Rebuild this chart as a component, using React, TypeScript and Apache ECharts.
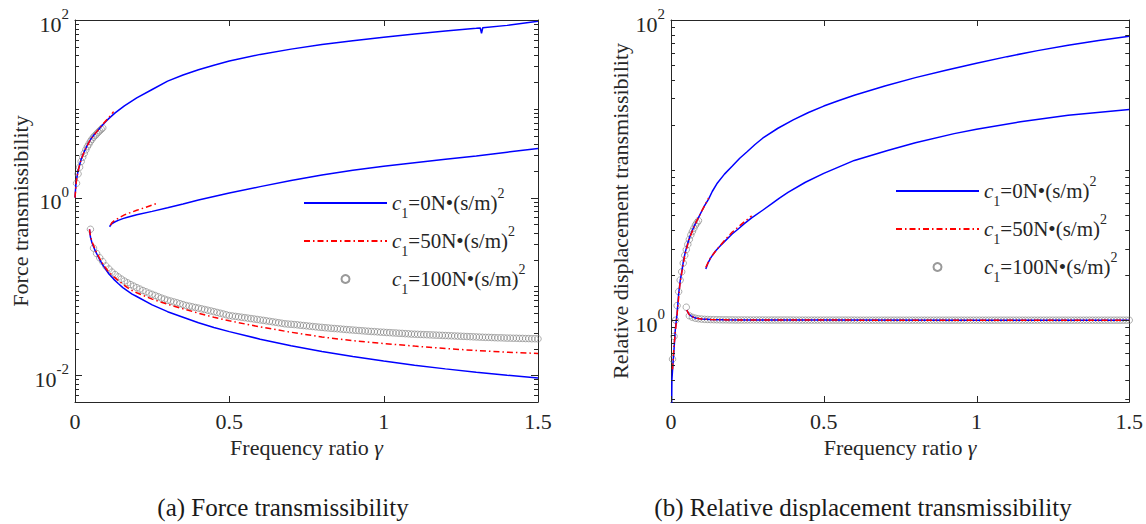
import React, { useEffect, useRef } from 'react';
import * as echarts from 'echarts';

const FONT = '"Liberation Serif", "Times New Roman", Times, serif';
const TXT = '#262626';
const BLUE = '#0000ff';
const RED = '#ff0000';
const GREY = '#808080';

const N0 = 'c1=0';
const N50 = 'c1=50';
const N100 = 'c1=100';
const LEGEND_LABEL: Record<string, string> = {
  [N0]: '=0N•(s/m)',
  [N50]: '=50N•(s/m)',
  [N100]: '=100N•(s/m)',
};

const xTickValues = [0, 0.5, 1, 1.5];

// ---------- (a) Force transmissibility ----------
const fYMin = 0.005;
const fYMax = 100;
const fMajor = [0.01, 1, 100];
const fMinor = [0.006, 0.007, 0.008, 0.009, 0.02, 0.03, 0.04, 0.05, 0.06, 0.07, 0.08, 0.09, 0.1,
  0.2, 0.3, 0.4, 0.5, 0.6, 0.7, 0.8, 0.9, 2, 3, 4, 5, 6, 7, 8, 9, 10, 20, 30, 40, 50, 60, 70, 80, 90];

const fTopGamma = [0, 0.0025, 0.005, 0.01, 0.015, 0.02, 0.03, 0.04, 0.05, 0.06, 0.07, 0.08, 0.09, 0.1, 0.11, 0.13, 0.16,
  0.2, 0.25, 0.3, 0.35, 0.4, 0.45, 0.5, 0.6, 0.7, 0.8, 0.9, 1.0, 1.1, 1.2, 1.3, 1.313, 1.317, 1.321, 1.4, 1.5];
const fTopBlue = [1, 1.35, 1.6, 2.0, 2.35, 2.7, 3.3, 3.9, 4.5, 5.0, 5.5, 6.05, 6.6, 7.2, 7.8, 9.0, 10.8,
  13.3, 16.5, 20.5, 24, 27.5, 31, 34.5, 41, 47, 53, 58.5, 64, 69.5, 75, 80.5, 81.3, 71, 81.8, 87, 97];
const fTopRedGamma = [0, 0.005, 0.01, 0.02, 0.035, 0.05, 0.07, 0.09, 0.11, 0.125];
const fTopRed = [1, 1.6, 2.0, 2.7, 3.6, 4.5, 5.5, 6.7, 8.0, 9.3];

const fMidGamma = [0.112, 0.116, 0.12, 0.13, 0.14, 0.155, 0.17, 0.2, 0.25, 0.3, 0.35, 0.4, 0.45, 0.5, 0.6, 0.7, 0.8,
  0.9, 1.0, 1.1, 1.2, 1.3, 1.4, 1.5];
const fMidBlue = [0.47, 0.495, 0.51, 0.535, 0.555, 0.58, 0.6, 0.64, 0.7, 0.77, 0.85, 0.94, 1.03, 1.13, 1.33, 1.56, 1.8,
  2.03, 2.25, 2.47, 2.7, 2.95, 3.25, 3.57];
const fMidRedGamma = [0.115, 0.12, 0.13, 0.16, 0.2, 0.23, 0.265];
const fMidRed = [0.49, 0.525, 0.56, 0.64, 0.72, 0.78, 0.86];

const fLowGamma = [0.047, 0.05, 0.055, 0.06, 0.065, 0.07, 0.08, 0.09, 0.1, 0.11, 0.125, 0.14, 0.155, 0.17, 0.185, 0.2,
  0.25, 0.3, 0.35, 0.4, 0.45, 0.5, 0.6, 0.7, 0.8, 0.9, 1.0, 1.1, 1.2, 1.3, 1.4, 1.5];
const fLowBlue = [0.44, 0.36, 0.31, 0.28, 0.255, 0.235, 0.2, 0.175, 0.155, 0.138, 0.121, 0.108, 0.097, 0.089, 0.082, 0.077,
  0.062, 0.052, 0.045, 0.039, 0.0345, 0.031, 0.0255, 0.0215, 0.0185, 0.0163, 0.0145, 0.013, 0.0118, 0.0108, 0.01, 0.0093];
const fLowRed = [0.44, 0.37, 0.32, 0.29, 0.265, 0.24, 0.207, 0.18, 0.16, 0.145, 0.129, 0.117, 0.106, 0.097, 0.09, 0.085,
  0.072, 0.063, 0.056, 0.05, 0.045, 0.041, 0.035, 0.0305, 0.027, 0.0245, 0.0228, 0.0213, 0.02, 0.019, 0.0182, 0.0176];

const circTopGamma = [0.005, 0.01, 0.015, 0.02, 0.025, 0.03, 0.035, 0.04, 0.045, 0.05, 0.055, 0.06, 0.065, 0.07,
  0.075, 0.08, 0.085, 0.09];
const fCircTop = [1.45, 1.85, 2.2, 2.55, 2.85, 3.15, 3.45, 3.75, 4.0, 4.3, 4.55, 4.8, 5.0, 5.2, 5.45, 5.65, 5.9, 6.1];

// gamma of the circle markers on the lower branches (0.05 … 1.50, step 0.01)
const circLowGamma = [
  0.05, 0.06, 0.07, 0.08, 0.09, 0.10, 0.11, 0.12, 0.13, 0.14, 0.15, 0.16, 0.17, 0.18, 0.19, 0.20,
  0.21, 0.22, 0.23, 0.24, 0.25, 0.26, 0.27, 0.28, 0.29, 0.30, 0.31, 0.32, 0.33, 0.34, 0.35, 0.36, 0.37, 0.38, 0.39, 0.40,
  0.41, 0.42, 0.43, 0.44, 0.45, 0.46, 0.47, 0.48, 0.49, 0.50, 0.51, 0.52, 0.53, 0.54, 0.55, 0.56, 0.57, 0.58, 0.59, 0.60,
  0.61, 0.62, 0.63, 0.64, 0.65, 0.66, 0.67, 0.68, 0.69, 0.70, 0.71, 0.72, 0.73, 0.74, 0.75, 0.76, 0.77, 0.78, 0.79, 0.80,
  0.81, 0.82, 0.83, 0.84, 0.85, 0.86, 0.87, 0.88, 0.89, 0.90, 0.91, 0.92, 0.93, 0.94, 0.95, 0.96, 0.97, 0.98, 0.99, 1.00,
  1.01, 1.02, 1.03, 1.04, 1.05, 1.06, 1.07, 1.08, 1.09, 1.10, 1.11, 1.12, 1.13, 1.14, 1.15, 1.16, 1.17, 1.18, 1.19, 1.20,
  1.21, 1.22, 1.23, 1.24, 1.25, 1.26, 1.27, 1.28, 1.29, 1.30, 1.31, 1.32, 1.33, 1.34, 1.35, 1.36, 1.37, 1.38, 1.39, 1.40,
  1.41, 1.42, 1.43, 1.44, 1.45, 1.46, 1.47, 1.48, 1.49, 1.50];
const fCircLow = [
  0.44, 0.27, 0.235, 0.21, 0.19, 0.17, 0.157, 0.145, 0.136, 0.128, 0.121, 0.115, 0.11, 0.105, 0.101, 0.097,
  0.0935, 0.090, 0.087, 0.084, 0.0815, 0.079, 0.0765, 0.074, 0.072, 0.070, 0.0685, 0.067, 0.0655, 0.064, 0.0625, 0.061, 0.060, 0.059, 0.058, 0.057,
  0.056, 0.055, 0.054, 0.053, 0.052, 0.051, 0.050, 0.049, 0.048, 0.047, 0.0465, 0.046, 0.0455, 0.045, 0.0445, 0.044, 0.0435, 0.043, 0.0425, 0.042,
  0.0415, 0.041, 0.0405, 0.040, 0.0395, 0.039, 0.0385, 0.038, 0.0377, 0.0375, 0.0372, 0.037, 0.0366, 0.0363, 0.036, 0.0357, 0.0354, 0.0351, 0.0348, 0.0346,
  0.0343, 0.0341, 0.0338, 0.0336, 0.0334, 0.0332, 0.0329, 0.0327, 0.0325, 0.0323, 0.0321, 0.0319, 0.0317, 0.0315, 0.0313, 0.0311, 0.031, 0.0308, 0.0306, 0.0305,
  0.0303, 0.0302, 0.030, 0.0299, 0.0297, 0.0296, 0.0294, 0.0293, 0.0291, 0.029, 0.0289, 0.0288, 0.0287, 0.0286, 0.0285, 0.0284, 0.0283, 0.0282, 0.0281, 0.028,
  0.0279, 0.0278, 0.0277, 0.0276, 0.0275, 0.0274, 0.0273, 0.0272, 0.0271, 0.027, 0.0269, 0.0268, 0.0267, 0.0267, 0.0266, 0.0265, 0.0264, 0.0264, 0.0263, 0.0262,
  0.0262, 0.0261, 0.0261, 0.026, 0.026, 0.0259, 0.0259, 0.0258, 0.0258, 0.0257];

// ---------- (b) Relative displacement transmissibility ----------
const dYMin = 0.285;
const dYMax = 100;
const dMajor = [1, 100];
const dMinor = [0.3, 0.4, 0.5, 0.6, 0.7, 0.8, 0.9, 2, 3, 4, 5, 6, 7, 8, 9, 10, 20, 30, 40, 50, 60, 70, 80, 90];

const dTopGamma = [0, 0.003, 0.006, 0.009, 0.014, 0.02, 0.025, 0.03, 0.036, 0.041, 0.047, 0.055, 0.063, 0.074, 0.085,
  0.1, 0.11, 0.123, 0.135, 0.15, 0.175, 0.2, 0.225, 0.25, 0.275, 0.3, 0.35, 0.4, 0.45, 0.5, 0.55, 0.6, 0.7, 0.8, 0.9,
  1.0, 1.1, 1.2, 1.3, 1.4, 1.5];
const dTopBlue = [0.1, 0.4, 0.5, 0.6, 0.86, 1.11, 1.5, 1.82, 2.15, 2.5, 2.85, 3.27, 3.67, 4.15, 4.6,
  5.3, 5.8, 6.4, 7.2, 8.1, 9.4, 10.6, 12.0, 13.3, 14.8, 16.3, 19.0, 21.6, 24.2, 26.7, 29.1, 31.5, 36.3, 41.3, 46.3,
  51.5, 57, 62.5, 68, 73, 78];
const dTopRedGamma = [0.005, 0.01, 0.02, 0.03, 0.045, 0.06, 0.08, 0.1, 0.123];
const dTopRed = [0.47, 0.68, 1.1, 1.8, 2.7, 3.5, 4.4, 5.3, 6.5];

const dMidGamma = [0.114, 0.12, 0.13, 0.145, 0.166, 0.2, 0.22, 0.24, 0.264, 0.3, 0.329, 0.355, 0.383, 0.44, 0.5, 0.6,
  0.709, 0.8, 0.927, 1.0, 1.144, 1.3, 1.5];
const dMidBlue = [2.19, 2.38, 2.6, 2.88, 3.2, 3.75, 4.05, 4.4, 4.8, 5.4, 5.95, 6.5, 7.1, 8.3, 9.5, 11.6,
  13.5, 15.2, 17.5, 18.7, 21, 23.2, 25.3];
const dMidRedGamma = [0.114, 0.13, 0.15, 0.175, 0.2, 0.23, 0.264];
const dMidRed = [2.25, 2.62, 2.95, 3.4, 3.85, 4.35, 4.95];

const dFlatGamma = [0.052, 0.055, 0.06, 0.065, 0.07, 0.08, 0.09, 0.1, 0.13, 0.17, 0.25, 0.5, 1.0, 1.5];
const dFlatBlue = [1.17, 1.13, 1.09, 1.07, 1.055, 1.035, 1.026, 1.02, 1.01, 1.005, 1.002, 1.001, 1.0, 1.0];
const dFlatRed = [1.17, 1.13, 1.09, 1.07, 1.055, 1.035, 1.026, 1.02, 1.01, 1.005, 1.002, 1.001, 1.0, 1.0];

const dCircTop = [0.55, 0.78, 1.0, 1.25, 1.55, 1.85, 2.1, 2.4, 2.7, 2.95, 3.2, 3.45, 3.7, 3.9, 4.1, 4.3, 4.45, 4.6];
const dCircLow = [
  1.22, 1.07, 1.045, 1.03, 1.022, 1.017, 1.013, 1.011, 1.009, 1.008, 1.007, 1.006, 1.005, 1.005, 1.004, 1.004,
  1.003, 1.003, 1.003, 1.003, 1.003, 1.003, 1.003, 1.003, 1.003, 1.003, 1.002, 1.002, 1.002, 1.002, 1.002, 1.002, 1.002, 1.002, 1.002, 1.002,
  1.001, 1.001, 1.001, 1.001, 1.001, 1.001, 1.001, 1.001, 1.001, 1.001, 1.001, 1.001, 1.001, 1.001, 1.001, 1.001, 1.001, 1.001, 1.001, 1.001,
  1, 1, 1, 1, 1, 1, 1, 1, 1, 1, 1, 1, 1, 1, 1, 1, 1, 1, 1, 1,
  1, 1, 1, 1, 1, 1, 1, 1, 1, 1, 1, 1, 1, 1, 1, 1, 1, 1, 1, 1,
  1, 1, 1, 1, 1, 1, 1, 1, 1, 1, 1, 1, 1, 1, 1, 1, 1, 1, 1, 1,
  1, 1, 1, 1, 1, 1, 1, 1, 1, 1, 1, 1, 1, 1, 1, 1, 1, 1, 1, 1,
  1, 1, 1, 1, 1, 1, 1, 1, 1, 1];

const zip = (g: number[], v: number[]) => g.map((x, i) => [x, v[i]]);

const blueLine = { color: BLUE, width: 1.5, type: 'solid' as const };
const redLine = { color: RED, width: 1.5, type: [6, 3, 1.5, 3] };

function lineSeries(name: string, data: number[][], xi: number, yi: number, style: any) {
  return {
    name, type: 'line', xAxisIndex: xi, yAxisIndex: yi, data, symbol: 'none', showSymbol: false,
    lineStyle: style, itemStyle: { color: style.color }, silent: true, clip: true, z: 3,
  };
}
function circleSeries(data: number[][], xi: number, yi: number) {
  return {
    name: N100, type: 'scatter', xAxisIndex: xi, yAxisIndex: yi, data, symbol: 'circle', symbolSize: 6.5,
    symbolKeepAspect: true,
    itemStyle: { color: 'rgba(0,0,0,0)', borderColor: GREY, borderWidth: 0.8 }, silent: true, clip: true, z: 2,
  };
}

// Box ticks (inside, on both sides), positioned through the axes' own scales.
function yTickSeries(xi: number, yi: number, major: number[], minor: number[]) {
  const data = [...major.map((v) => [0.75, v, 7]), ...minor.map((v) => [0.75, v, 4])];
  return {
    type: 'custom', xAxisIndex: xi, yAxisIndex: yi, silent: true, clip: false, z: 5, data,
    renderItem: (params: any, api: any) => {
      const cs = params.coordSys;
      const y = Math.round(api.coord([api.value(0), api.value(1)])[1]) + 0.5;
      const len = api.value(2);
      const st = { stroke: TXT, lineWidth: 1 };
      return {
        type: 'group',
        children: [
          { type: 'line', shape: { x1: cs.x, y1: y, x2: cs.x + len, y2: y }, style: st },
          { type: 'line', shape: { x1: cs.x + cs.width - len, y1: y, x2: cs.x + cs.width, y2: y }, style: st },
        ],
      };
    },
  };
}
function xTickSeries(xi: number, yi: number, yMid: number) {
  const data = xTickValues.map((g) => [g, yMid, 6]);
  return {
    type: 'custom', xAxisIndex: xi, yAxisIndex: yi, silent: true, clip: false, z: 5, data,
    renderItem: (params: any, api: any) => {
      const cs = params.coordSys;
      const x = Math.round(api.coord([api.value(0), api.value(1)])[0]) + 0.5;
      const len = api.value(2);
      const st = { stroke: TXT, lineWidth: 1 };
      return {
        type: 'group',
        children: [
          { type: 'line', shape: { x1: x, y1: cs.y, x2: x, y2: cs.y + len }, style: st },
          { type: 'line', shape: { x1: x, y1: cs.y + cs.height - len, x2: x, y2: cs.y + cs.height }, style: st },
        ],
      };
    },
  };
}

const labelRich = {
  b: { fontSize: 22, fontFamily: FONT, color: TXT, lineHeight: 22 },
  s: { fontSize: 15, fontFamily: FONT, color: TXT, height: 2, lineHeight: 2, verticalAlign: 'top' },
};
const logFmt = (v: number) => `{b|10}{s|${Math.round(Math.log10(v))}}`;
const frame = { show: true, onZero: false, lineStyle: { color: TXT, width: 1 } };

function xAxes(grid: number) {
  return [
    {
      gridIndex: grid, type: 'value', min: 0, max: 1.5, interval: 0.5, position: 'bottom',
      axisLine: frame, splitLine: { show: false }, axisTick: { show: false },
      axisLabel: { fontSize: 22, fontFamily: FONT, color: TXT, margin: 8 },
      name: '{n|Frequency ratio }{g|γ}', nameLocation: 'middle', nameGap: 34, nameMoveOverlap: false,
      nameTextStyle: {
        rich: {
          n: { fontSize: 22, fontFamily: FONT, color: TXT },
          g: { fontSize: 22, fontFamily: FONT, color: TXT, fontStyle: 'italic' },
        },
      },
    },
    {
      gridIndex: grid, type: 'value', min: 0, max: 1.5, interval: 0.5, position: 'top',
      axisLine: frame, splitLine: { show: false }, axisTick: { show: false }, axisLabel: { show: false },
    },
  ];
}

function yAxes(grid: number, min: number, max: number, major: number[], name: string, gap: number) {
  const base = { gridIndex: grid, type: 'log', logBase: 10, min, max, splitLine: { show: false }, axisTick: { show: false } };
  return [
    {
      ...base, position: 'left', axisLine: frame,
      axisLabel: { customValues: major, formatter: logFmt, rich: labelRich, margin: 6, padding: [8, 0, 0, 0] },
      name, nameLocation: 'middle', nameGap: gap, nameMoveOverlap: false,
      nameTextStyle: { fontSize: 22, fontFamily: FONT, color: TXT },
    },
    { ...base, position: 'right', axisLine: frame, axisLabel: { show: false } },
  ];
}

const legendRich = {
  c: { fontSize: 21, fontFamily: FONT, color: TXT, fontStyle: 'italic', lineHeight: 22 },
  t: { fontSize: 21, fontFamily: FONT, color: TXT, lineHeight: 22 },
  sub: { fontSize: 14, fontFamily: FONT, color: TXT, height: 2, lineHeight: 2, verticalAlign: 'bottom' },
  sup: { fontSize: 14, fontFamily: FONT, color: TXT, height: 2, lineHeight: 2, verticalAlign: 'top' },
};
const noDot = { color: 'rgba(0,0,0,0)', borderWidth: 0 };
function legend(left: number, top: number) {
  return {
    show: true, orient: 'vertical', left, top, itemWidth: 83, itemHeight: 8, itemGap: 4,
    selectedMode: false, padding: 0,
    data: [{ name: N0, itemStyle: noDot }, { name: N50, itemStyle: noDot }, { name: N100, icon: 'circle' }],
    formatter: (n: string) => `{c|c}{sub|1}{t|${LEGEND_LABEL[n]}}{sup|2}`,
    textStyle: { rich: legendRich },
  };
}

export default function App() {
  const ref = useRef<HTMLDivElement>(null);
  useEffect(() => {
    if (!ref.current) return;
    const chart = echarts.init(ref.current, null, { renderer: 'svg' });
    const option: any = {
      animation: false,
      backgroundColor: '#ffffff',
      grid: [
        { left: 75, top: 20, width: 463, height: 382, show: false },
        { left: 671, top: 20, width: 461, height: 382, show: false },
      ],
      xAxis: [...xAxes(0), ...xAxes(1)],
      yAxis: [
        ...yAxes(0, fYMin, fYMax, fMajor, 'Force transmissibility', 44),
        ...yAxes(1, dYMin, dYMax, dMajor, 'Relative displacement transmissibility', 40),
      ],
      legend: [legend(303, 186), legend(895, 174)],
      series: [
        circleSeries([...zip(circTopGamma, fCircTop), ...zip(circLowGamma, fCircLow)], 0, 0),
        lineSeries(N0, zip(fTopGamma, fTopBlue), 0, 0, blueLine),
        lineSeries(N0, zip(fMidGamma, fMidBlue), 0, 0, blueLine),
        lineSeries(N0, zip(fLowGamma, fLowBlue), 0, 0, blueLine),
        lineSeries(N50, zip(fTopRedGamma, fTopRed), 0, 0, redLine),
        lineSeries(N50, zip(fMidRedGamma, fMidRed), 0, 0, redLine),
        lineSeries(N50, zip(fLowGamma, fLowRed), 0, 0, redLine),
        yTickSeries(0, 0, fMajor, fMinor),
        xTickSeries(0, 0, 1),

        circleSeries([...zip(circTopGamma, dCircTop), ...zip(circLowGamma, dCircLow)], 2, 2),
        lineSeries(N0, zip(dTopGamma, dTopBlue), 2, 2, blueLine),
        lineSeries(N0, zip(dMidGamma, dMidBlue), 2, 2, blueLine),
        lineSeries(N0, zip(dFlatGamma, dFlatBlue), 2, 2, blueLine),
        lineSeries(N50, zip(dTopRedGamma, dTopRed), 2, 2, redLine),
        lineSeries(N50, zip(dMidRedGamma, dMidRed), 2, 2, redLine),
        lineSeries(N50, zip(dFlatGamma, dFlatRed), 2, 2, redLine),
        yTickSeries(2, 2, dMajor, dMinor),
        xTickSeries(2, 2, 1),
      ],
      graphic: [
        {
          type: 'text', x: 283, y: 507, silent: true,
          style: { text: '(a) Force transmissibility', font: `25px ${FONT}`, fill: '#1a1a1a', textAlign: 'center', textVerticalAlign: 'middle' },
        },
        {
          type: 'text', x: 863, y: 507, silent: true,
          style: { text: '(b) Relative displacement transmissibility', font: `25px ${FONT}`, fill: '#1a1a1a', textAlign: 'center', textVerticalAlign: 'middle' },
        },
      ],
    };
    chart.setOption(option);
    return () => chart.dispose();
  }, []);
  return <div ref={ref} style={{ position: 'absolute', left: 0, top: 0, width: 1146, height: 524, background: '#fff' }} />;
}
